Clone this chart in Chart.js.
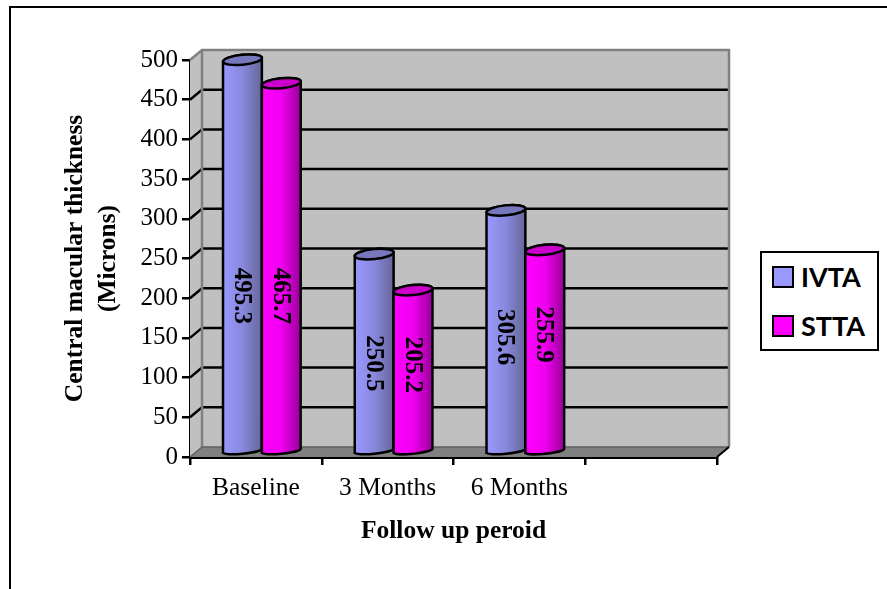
<!DOCTYPE html>
<html>
<head>
<meta charset="utf-8">
<title>Central macular thickness</title>
<script src="https://cdn.jsdelivr.net/npm/chart.js@4"></script>
<style>
  html, body { margin: 0; padding: 0; background: #fff; overflow: hidden; }
  #wrap { position: relative; width: 887px; height: 589px; overflow: hidden; }
  #frame { position: absolute; left: 9px; top: 6px; width: 950px; height: 700px; border: 2px solid #000; }
  #chart { position: absolute; left: 0; top: 0; }
  #legend { position: absolute; left: 760px; top: 251px; width: 115px; height: 96px; border: 2px solid #000; background: #fff; font: bold 27px Lato, sans-serif; color: #000; }
  .row { position: absolute; left: 10px; height: 22px; line-height: 22px; white-space: nowrap; }
  .swatch { display: inline-block; width: 18px; height: 18px; border: 2px solid #000; vertical-align: top; margin-right: 7px; }
</style>
</head>
<body>
<div id="wrap">
  <div id="frame"></div>
  <canvas id="chart" width="887" height="589"></canvas>
  <div id="legend"></div>
</div>
<script>
const categories = ["Baseline", "3 Months", "6 Months", ""];
const seriesNames = ["IVTA", "STTA"];
const ivta = [495.3, 250.5, 305.6, null];
const stta = [465.7, 205.2, 255.9, null];
// value height at which the rotated label sits in the reference
const ivtaLabelAt = [203, 118, 151, null];
const sttaLabelAt = [203, 116, 154, null];
const yTicks = [0, 50, 100, 150, 200, 250, 300, 350, 400, 450, 500];

const SERIF = "'Liberation Serif', 'Times New Roman', serif";
const depthX = 12, depthY = -10;   // back wall offset
const barDX = 6, barDY = -4;       // bars stand mid-floor

const styles = [
  { light: "#9999ff", mid: "#8888dd", dark: "#666699", cap: "#7777bb" },
  { light: "#ff00ff", mid: "#f000f0", dark: "#990099", cap: "#cc00cc" }
];

// walls, floor and grid lines of the fake 3D box
const boxPlugin = {
  id: "box",
  beforeDatasetsDraw(chart) {
    const c = chart.ctx, a = chart.chartArea, y = chart.scales.y;
    const l = a.left, r = a.right, t = a.top, b = a.bottom;
    c.save();
    c.fillStyle = "#c0c0c0";
    c.beginPath();
    c.moveTo(l, b); c.lineTo(l, t); c.lineTo(l + depthX, t + depthY);
    c.lineTo(r + depthX, t + depthY); c.lineTo(r + depthX, b + depthY);
    c.lineTo(r, b); c.closePath(); c.fill();

    c.fillStyle = "#808080";
    c.beginPath();
    c.moveTo(l, b); c.lineTo(r, b); c.lineTo(r + depthX, b + depthY); c.lineTo(l + depthX, b + depthY);
    c.closePath(); c.fill();

    c.strokeStyle = "#000";
    c.lineWidth = 2.5;
    yTicks.slice(1, -1).forEach(v => {
      const py = y.getPixelForValue(v);
      c.beginPath();
      c.moveTo(l, py); c.lineTo(l + depthX, py + depthY); c.lineTo(r + depthX, py + depthY);
      c.stroke();
    });

    c.strokeStyle = "#808080";
    c.lineWidth = 2.5;
    c.beginPath();
    c.moveTo(l, t); c.lineTo(l + depthX, t + depthY); c.lineTo(r + depthX, t + depthY);
    c.lineTo(r + depthX, b + depthY);
    c.moveTo(l + depthX, t + depthY); c.lineTo(l + depthX, b + depthY);
    c.stroke();

    c.strokeStyle = "#606060";
    c.lineWidth = 1.5;
    c.beginPath();
    c.moveTo(l + depthX, b + depthY); c.lineTo(r + depthX, b + depthY);
    c.moveTo(l, b); c.lineTo(l + depthX, b + depthY);
    c.stroke();

    c.strokeStyle = "#000";
    c.lineWidth = 2;
    c.beginPath();
    c.moveTo(r, b); c.lineTo(r + depthX, b + depthY);
    c.stroke();
    c.restore();
  }
};

function drawCylinder(c, bar, st) {
  const rx = bar.width / 2, cx = bar.x + barDX;
  const top = bar.y + barDY, base = bar.base + barDY - 1;
  const tilt = -0.1, ry = 5;
  const dy = rx * Math.sin(tilt);
  const g = c.createLinearGradient(cx - rx, 0, cx + rx, 0);
  g.addColorStop(0, st.light);
  g.addColorStop(0.5, st.mid);
  g.addColorStop(1, st.dark);
  c.lineWidth = 2.5;
  c.strokeStyle = "#000";
  c.fillStyle = g;
  c.beginPath();
  c.moveTo(cx - rx, top - dy);
  c.lineTo(cx - rx, base - dy);
  c.ellipse(cx, base, rx, 3, tilt, Math.PI, 0, true);
  c.lineTo(cx + rx, top + dy);
  c.ellipse(cx, top, rx, ry, tilt, 0, Math.PI, true);
  c.closePath();
  c.fill();
  c.stroke();
  c.fillStyle = st.cap;
  c.beginPath();
  c.ellipse(cx, top, rx, ry, tilt, 0, Math.PI * 2);
  c.fill();
  c.stroke();
}

// cylinders instead of the plain rectangles, first series first so the second overlaps it
const cylinderPlugin = {
  id: "cylinder",
  beforeDatasetDraw() {
    return false;
  },
  afterDatasetsDraw(chart) {
    const c = chart.ctx, y = chart.scales.y;
    [ivta, stta].forEach((values, d) => {
      chart.getDatasetMeta(d).data.forEach((bar, i) => {
        if (values[i] == null) return;
        c.save();
        drawCylinder(c, bar, styles[d]);
        c.restore();
      });
    });
    [ivtaLabelAt, sttaLabelAt].forEach((at, d) => {
      chart.getDatasetMeta(d).data.forEach((bar, i) => {
        if (at[i] == null) return;
        c.save();
        c.translate(bar.x + barDX - 1, y.getPixelForValue(at[i]));
        c.rotate(Math.PI / 2);
        c.font = "bold 25px " + SERIF;
        c.fillStyle = "#000";
        c.textAlign = "center";
        c.textBaseline = "middle";
        c.fillText(String(chart.data.datasets[d].data[i]), 0, 0);
        c.restore();
      });
    });
  }
};

const chart = new Chart(document.getElementById("chart").getContext("2d"), {
  type: "bar",
  data: {
    labels: categories,
    datasets: [
      { label: seriesNames[0], data: ivta, backgroundColor: styles[0].light, clip: false },
      { label: seriesNames[1], data: stta, backgroundColor: styles[1].light, clip: false }
    ]
  },
  options: {
    responsive: false,
    animation: false,
    layout: { padding: { left: 0, right: 170, top: 60, bottom: 0 } },
    datasets: { bar: { barPercentage: 1, categoryPercentage: 0.59 } },
    plugins: { legend: { display: false }, tooltip: { enabled: false } },
    scales: {
      x: {
        offset: true,
        afterFit(s) { s.height = 132; },
        grid: { offset: true, drawOnChartArea: false, color: "#000", lineWidth: 2.5, tickLength: 8 },
        border: { color: "#000", width: 3 },
        ticks: { color: "#000", font: { family: SERIF, size: 25.5 }, padding: 8, maxRotation: 0, autoSkip: false },
        title: { display: true, text: "Follow up peroid", color: "#000", font: { family: SERIF, size: 25.5, weight: "bold" }, padding: { top: 20, bottom: 42 } }
      },
      y: {
        min: 0,
        max: 500,
        afterFit(s) { s.width = 190; },
        afterBuildTicks(s) { s.ticks = yTicks.map(v => ({ value: v })); },
        grid: { drawOnChartArea: false, color: "#000", lineWidth: 2.5, tickLength: 8 },
        border: { color: "#000", width: 3 },
        ticks: { color: "#000", font: { family: SERIF, size: 25 }, padding: 4 },
        title: { display: true, text: ["Central macular thickness", "(Microns)"], color: "#000", font: { family: SERIF, size: 25.5, weight: "bold", lineHeight: 1.3 }, padding: { top: 59, bottom: 0 } }
      }
    }
  },
  plugins: [boxPlugin, cylinderPlugin]
});

// legend box
const legend = document.getElementById("legend");
seriesNames.forEach((name, i) => {
  const row = document.createElement("div");
  row.className = "row";
  row.style.top = (13 + i * 49) + "px";
  const sw = document.createElement("span");
  sw.className = "swatch";
  sw.style.background = styles[i].light;
  row.appendChild(sw);
  row.appendChild(document.createTextNode(name));
  legend.appendChild(row);
});
</script>
</body>
</html>
